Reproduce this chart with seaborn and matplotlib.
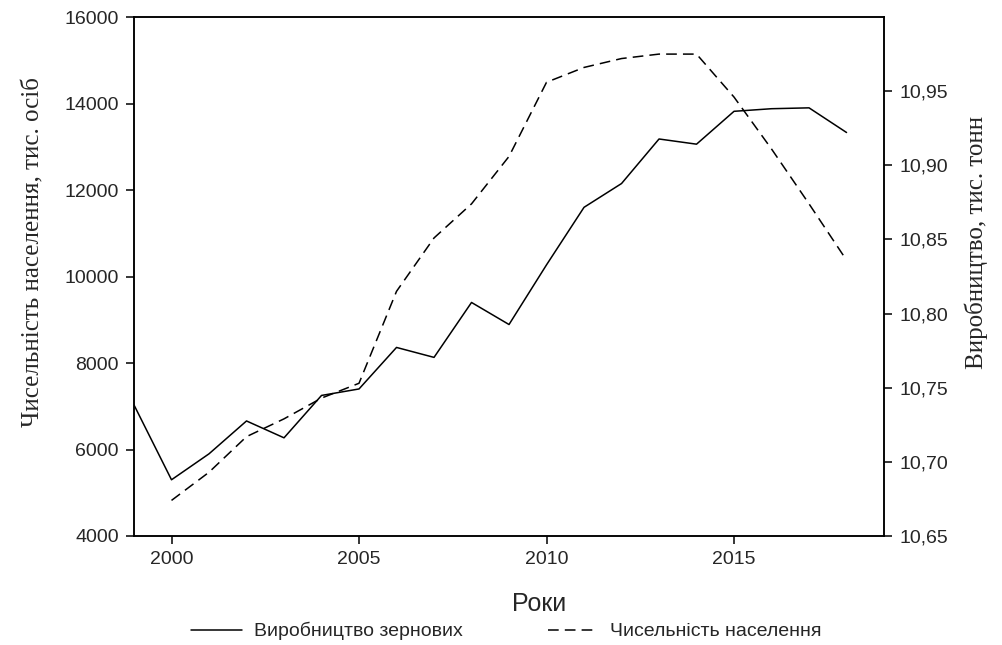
import pandas as pd
import matplotlib
matplotlib.use("Agg")
import matplotlib.pyplot as plt
import seaborn as sns
from matplotlib.lines import Line2D
from matplotlib.ticker import FixedLocator

# Дані
roky_zerno = [1999, 2000, 2001, 2002, 2003, 2004, 2005, 2006, 2007, 2008,
              2009, 2010, 2011, 2012, 2013, 2014, 2015, 2016, 2017, 2018]
vyrobnytstvo_zernovykh = [7030, 5300, 5900, 6660, 6270, 7250, 7400, 8360, 8130, 9400,
                          8890, 10270, 11600, 12150, 13180, 13060, 13820, 13880, 13900, 13330]

roky_nasel = [2000, 2001, 2002, 2003, 2004, 2005, 2006, 2007, 2008, 2009,
              2010, 2011, 2012, 2013, 2014, 2015, 2016, 2017, 2018]
chyselnist_naselennia = [10.674, 10.693, 10.717, 10.729, 10.743, 10.753, 10.815, 10.851, 10.874, 10.906,
                         10.956, 10.966, 10.972, 10.975, 10.975, 10.946, 10.911, 10.874, 10.836]

x_ticks = [2000, 2005, 2010, 2015]
left_ticks = [4000, 6000, 8000, 10000, 12000, 14000, 16000]
right_ticks = [10.65, 10.70, 10.75, 10.80, 10.85, 10.90, 10.95]

df_zerno = pd.DataFrame({'rik': roky_zerno, 'znach': vyrobnytstvo_zernovykh})
df_nasel = pd.DataFrame({'rik': roky_nasel, 'znach': chyselnist_naselennia})

sns.set_style("ticks")
plt.rcParams['font.family'] = ['Liberation Sans', 'DejaVu Sans']
serif = ['Liberation Serif', 'DejaVu Serif']

fig, ax = plt.subplots(figsize=(10.03, 6.45), dpi=100)
fig.subplots_adjust(left=0.1336, right=0.8814, top=0.9736, bottom=0.169)
ax2 = ax.twinx()

sns.lineplot(data=df_zerno, x='rik', y='znach', ax=ax, color='black', linewidth=1.1)
sns.lineplot(data=df_nasel, x='rik', y='znach', ax=ax2, color='black', linewidth=1.1)
ax2.lines[0].set_dashes([7, 4])

ax.set_xlim(1999, 2019)
ax.set_ylim(4000, 16000)
ax2.set_ylim(10.65, 11.0)

ax.xaxis.set_major_locator(FixedLocator(x_ticks))
ax.yaxis.set_major_locator(FixedLocator(left_ticks))
ax2.yaxis.set_major_locator(FixedLocator(right_ticks))
ax.set_xticklabels([str(t) for t in x_ticks])
ax.set_yticklabels([str(t) for t in left_ticks])
ax2.set_yticklabels([f"{t:.2f}".replace('.', ',') for t in right_ticks])

for a in (ax, ax2):
    for s in a.spines.values():
        s.set_visible(True)
        s.set_linewidth(1.1)
        s.set_color('black')
    a.tick_params(axis='both', labelsize=14, length=6, width=1.1, color='black',
                  direction='out', pad=5)

ax.set_xlabel('Роки', fontsize=18, labelpad=17)
ax.xaxis.label.set_x(0.54)
ax.set_ylabel('Чисельність населення, тис. осіб', fontsize=18, family=serif, labelpad=14)
ax.yaxis.label.set_y(0.547)
ax2.set_ylabel('Виробництво, тис. тонн', fontsize=18, family=serif, labelpad=12)
ax2.yaxis.label.set_y(0.565)

handles = [Line2D([], [], color='black', linewidth=1.1),
           Line2D([], [], color='black', linewidth=1.1, dashes=[7, 4])]
fig.legend(handles, ['Виробництво зернових', 'Чисельність населення'],
           loc='lower center', bbox_to_anchor=(0.505, -0.02), ncol=2, frameon=False,
           fontsize=14, handlelength=2.6, handletextpad=0.6, columnspacing=4.4)

fig.savefig('out.png', dpi=100)
